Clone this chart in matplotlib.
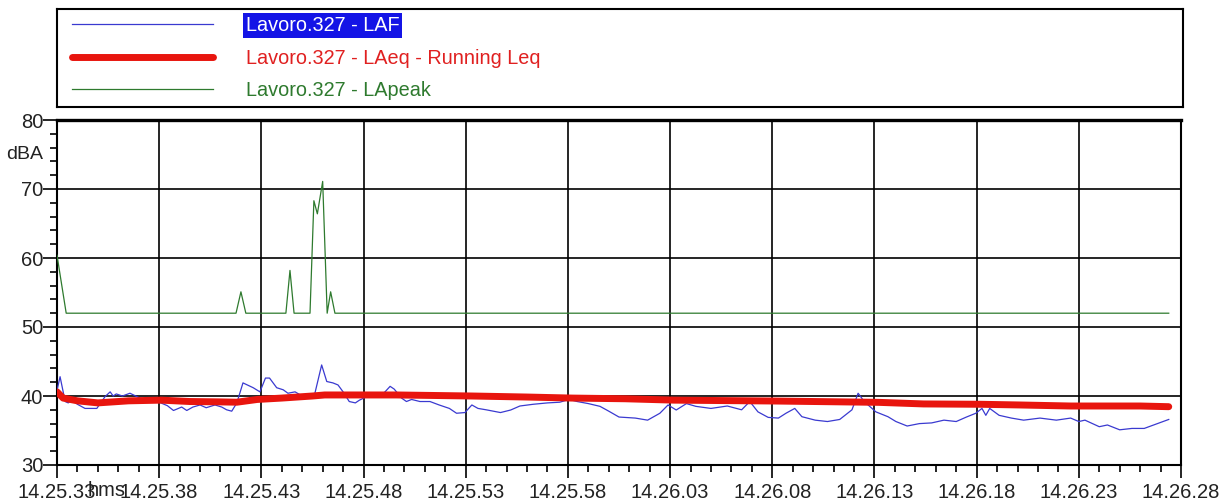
import numpy as np
import matplotlib
matplotlib.use('Agg')
import matplotlib.pyplot as plt
from matplotlib.ticker import MultipleLocator, FixedLocator

# seconds from 14.25.33
laf_t = [0.0, 0.15, 0.4, 0.55, 0.73, 1.0, 1.37, 1.95, 2.1, 2.35, 2.6, 2.75, 2.9, 3.2, 3.57, 4.06,
         4.55, 5.0, 5.4, 5.7, 6.1, 6.35, 6.65, 7.0, 7.3, 7.73, 8.06, 8.3, 8.55, 8.8, 9.1, 9.6,
         9.93, 10.2, 10.4, 10.75, 11.07, 11.3, 11.65, 12.05, 12.6, 12.95, 13.2, 13.5, 13.75, 14.0,
         14.3, 14.6, 14.8, 15.15, 15.8, 16.05, 16.3, 16.5, 16.86, 17.1, 17.35, 17.76, 18.25, 18.7,
         19.2, 19.55, 19.96, 20.3, 20.6, 21.0, 21.7, 22.2, 22.65, 23.3, 24.0, 24.6, 25.06, 25.45,
         26.0, 26.57, 27.0, 27.5, 28.3, 28.9, 29.5, 29.9, 30.3, 30.8, 31.26, 32.0, 32.8, 33.5,
         33.9, 34.3, 34.8, 35.3, 35.67, 36.1, 36.45, 37.1, 37.7, 38.3, 38.9, 39.2, 39.5, 40.07,
         40.66, 41.05, 41.6, 42.2, 42.8, 43.4, 44.0, 44.5, 44.96, 45.26, 45.45, 45.64, 46.1, 46.7,
         47.3, 48.1, 48.9, 49.6, 50.0, 50.3, 51.0, 51.4, 52.0, 52.6, 53.2, 54.4]
laf_v = [40.8, 42.8, 39.2, 39.0, 39.4, 38.8, 38.2, 38.2, 38.85, 39.9, 40.6, 40.0, 40.3, 40.0, 40.4, 39.7,
         39.4, 39.1, 38.6, 37.9, 38.4, 37.9, 38.4, 38.7, 38.3, 38.7, 38.4, 38.0, 37.8, 39.0, 41.9, 41.2,
         40.6, 42.6, 42.6, 41.2, 40.9, 40.4, 40.6, 39.9, 40.15, 44.5, 42.1, 41.9, 41.6, 40.6,
         39.2, 39.0, 39.4, 39.9, 40.0, 40.6, 41.4, 41.0, 39.7, 39.2, 39.5, 39.2, 39.2, 38.7,
         38.2, 37.5, 37.6, 38.7, 38.2, 38.0, 37.6, 37.97, 38.55, 38.8, 39.0, 39.1, 39.5, 39.2,
         38.9, 38.5, 37.8, 36.95, 36.8, 36.5, 37.5, 38.7, 37.97, 38.9, 38.5, 38.2, 38.55, 38.0,
         39.2, 37.7, 36.9, 36.8, 37.5, 38.2, 37.0, 36.5, 36.3, 36.6, 38.0, 40.4, 39.2, 37.7,
         37.0, 36.3, 35.65, 36.0, 36.1, 36.5, 36.3, 36.95, 37.5, 38.2, 37.2, 38.2, 37.2, 36.8,
         36.5, 36.8, 36.5, 36.8, 36.3, 36.5, 35.55, 35.8, 35.1, 35.3, 35.3, 36.6]

leq_t = [0.0, 0.3, 1.0, 2.0, 3.5, 5.1, 6.5, 7.9, 8.8, 9.8, 11.0, 12.5, 13.1, 16.6, 20.3, 23.0,
         25.2, 27.8, 30.2, 35.2, 40.2, 42.4, 45.2, 47.1, 49.6, 53.0, 54.4]
leq_v = [40.6, 39.7, 39.3, 39.0, 39.3, 39.4, 39.2, 39.15, 39.1, 39.5, 39.7, 40.0, 40.15, 40.15, 40.0, 39.85,
         39.7, 39.6, 39.4, 39.27, 39.08, 38.85, 38.8, 38.7, 38.55, 38.55, 38.45]

peak_t = [0.0, 0.45, 8.76, 9.0, 9.24, 11.2, 11.4, 11.6, 12.38, 12.57, 12.74, 13.0, 13.22, 13.39, 13.6, 54.4]
peak_v = [60.4, 52.0, 52.0, 55.1, 52.0, 52.0, 58.2, 52.0, 52.0, 68.3, 66.4, 71.1, 52.0, 55.1, 52.0, 52.0]

tick_labels = ['14.25.33', '14.25.38', '14.25.43', '14.25.48', '14.25.53', '14.25.58',
               '14.26.03', '14.26.08', '14.26.13', '14.26.18', '14.26.23', '14.26.28']
names = ['Lavoro.327 - LAF', 'Lavoro.327 - LAeq - Running Leq', 'Lavoro.327 - LApeak']

plt.rcParams['font.family'] = ['Liberation Sans', 'DejaVu Sans']

W, H = 1227, 504
fig = plt.figure(figsize=(W / 100, H / 100), dpi=100)
ax = fig.add_axes([57 / W, 1 - 465 / H, 1124 / W, 345 / H])

l1, = ax.plot(laf_t, laf_v, color='#3a3ad0', lw=0.9, zorder=3)
l2, = ax.plot(leq_t, leq_v, color='#e8150e', lw=5, solid_capstyle='round', zorder=4)
l3, = ax.plot(peak_t, peak_v, color='#2e7a2e', lw=0.9, zorder=3)

ax.set_xlim(0, 55)
ax.set_ylim(30, 80)
ax.xaxis.set_major_locator(FixedLocator(np.arange(0, 56, 5)))
ax.set_xticklabels(tick_labels)
ax.xaxis.set_minor_locator(MultipleLocator(1))
ax.yaxis.set_major_locator(MultipleLocator(10))
ax.yaxis.set_minor_locator(MultipleLocator(2))
ax.grid(which='major', color='black', lw=1.2)
ax.set_axisbelow(True)
for s in ax.spines.values():
    s.set_linewidth(1.5)
ax.spines['top'].set_linewidth(2.4)
ax.tick_params(axis='y', which='major', length=10, width=1.2, pad=0, labelsize=14.5, labelcolor='#222222')
ax.tick_params(axis='y', which='minor', length=5, width=1.2)
ax.tick_params(axis='x', which='major', length=9, width=1.2, pad=4, labelsize=14.5, labelcolor='#222222')
ax.tick_params(axis='x', which='minor', length=5, width=1.2)

ax.text(-0.0125, 75, 'dBA', transform=ax.get_yaxis_transform(), ha='right', va='center',
        fontsize=14, color='#222222')
ax.text(1.5, -0.045, 'hms', transform=ax.get_xaxis_transform(), ha='left', va='top',
        fontsize=14.5, color='#222222')

# legend box above the plot
lax = fig.add_axes([57 / W, 1 - 107 / H, 1126 / W, 98 / H])
lax.set_xticks([])
lax.set_yticks([])
for s in lax.spines.values():
    s.set_linewidth(1.5)
leg = lax.legend([l1, l2, l3], names, loc='center left', bbox_to_anchor=(0.0133, 0.5),
                 frameon=False, borderpad=0, borderaxespad=0, handlelength=7.1,
                 handletextpad=1.65, labelspacing=0.68,
                 prop={'family': ['Liberation Sans'], 'size': 14.3})
cols = ['white', '#e02020', '#2e7a2e']
for txt, c in zip(leg.get_texts(), cols):
    txt.set_color(c)
leg.get_texts()[0].set_bbox(dict(facecolor='#1414e6', edgecolor='none', pad=2))

plt.savefig('out.png', dpi=100)
